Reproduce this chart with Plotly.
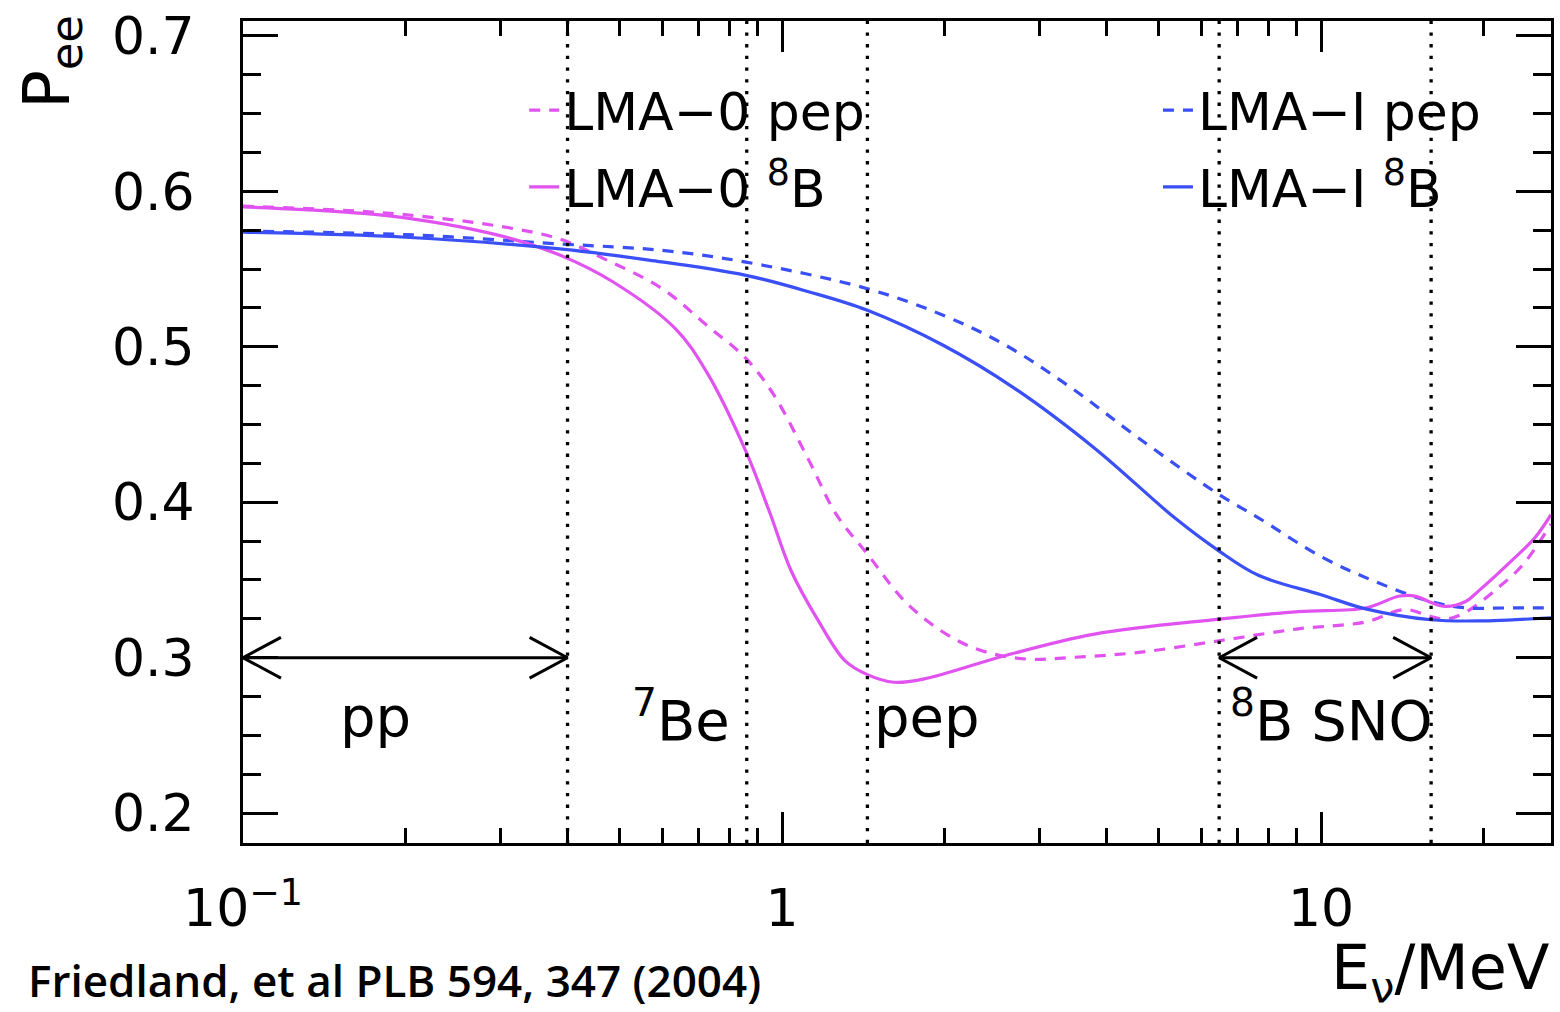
import numpy as np
import plotly.graph_objects as go

# ---------------- data ----------------
# LMA-0, 8B (magenta solid)
e_lma0_b8 = [0.1, 0.15, 0.2, 0.3, 0.387, 0.486, 0.634, 0.724, 0.857, 0.947, 1.04, 1.168,
             1.308, 1.44, 1.613, 1.842, 2.59, 3.80, 6.47, 9.08, 12.1, 14.0, 15.0,
             16.0, 17.0, 18.5, 19.6, 22.5, 24.9, 26.7]
p_lma0_b8 = [0.590, 0.587, 0.583, 0.5715, 0.559, 0.5417, 0.5117, 0.484, 0.4327, 0.3942, 0.3558, 0.3237,
             0.2981, 0.2891, 0.2842, 0.2865, 0.3013, 0.3152, 0.3248, 0.3297, 0.332, 0.3397, 0.3395,
             0.3355, 0.333, 0.336, 0.343, 0.362, 0.377, 0.392]

# LMA-0, pep (magenta dashed)
e_lma0_pep = [0.1, 0.15, 0.2, 0.3, 0.387, 0.468, 0.5995, 0.724, 0.857, 0.965, 1.124, 1.26,
              1.44, 1.708, 2.066, 2.406, 2.857, 3.45, 4.59, 6.47, 9.08, 12.1, 14.3,
              16.0, 17.2, 18.7, 21.3, 23.7, 26.7]
p_lma0_pep = [0.5905, 0.588, 0.585, 0.5775, 0.5693, 0.5566, 0.5374, 0.514, 0.4925, 0.4692, 0.4263, 0.3923,
              0.3667, 0.3346, 0.313, 0.3034, 0.2991, 0.3002, 0.3034, 0.3109, 0.3186, 0.323, 0.331,
              0.3265, 0.325, 0.330, 0.345, 0.360, 0.386]

# LMA-I, 8B (blue solid)
e_lma1_b8 = [0.1, 0.2, 0.387, 0.566, 0.857, 1.124, 1.44, 1.99, 2.70, 3.80, 5.35, 6.47,
             7.65, 10.0, 12.1, 16.0, 20.0, 23.0, 26.7]
p_lma1_b8 = [0.5737, 0.5705, 0.563, 0.5558, 0.546, 0.5353, 0.5235, 0.501, 0.4733, 0.4348, 0.390, 0.3686,
             0.3530, 0.3405, 0.3314, 0.3244, 0.3237, 0.3245, 0.3256]

# LMA-I, pep (blue dashed)
e_lma1_pep = [0.1, 0.2, 0.387, 0.6, 0.857, 1.44, 1.99, 2.60, 3.45, 4.59, 6.47, 7.65,
              10.0, 12.6, 16.0, 18.7, 22.0, 26.7]
p_lma1_pep = [0.5744, 0.5722, 0.5662, 0.562, 0.5545, 0.5374, 0.5203, 0.501, 0.4733, 0.4412, 0.4049, 0.390,
              0.365, 0.349, 0.336, 0.332, 0.332, 0.332]

series_names = ["LMA\u22120 pep", "LMA\u2212I pep", "LMA\u22120 <sup>8</sup>B", "LMA\u2212I <sup>8</sup>B"]

# region boundaries (MeV) and the arrow ranges
boundaries = [0.40, 0.86, 1.44, 6.47, 16.0]
pp_range = [0.1, 0.40]
sno_range = [6.47, 16.0]
arrow_level = 0.30

region_labels = ["pp", "<sup>7</sup>Be", "pep", "<sup>8</sup>B SNO"]
region_label_E = [0.176, 0.6495, 1.858, 10.45]
region_label_P = [0.262, 0.262, 0.262, 0.262]

x_tickvals = [0.1, 1, 10]
x_ticktext = ["10<sup>\u22121</sup>", "1", "10"]
x_minor = [0.2, 0.3, 0.4, 0.5, 0.6, 0.7, 0.8, 0.9, 2, 3, 4, 5, 6, 7, 8, 9, 20]

# ---------------- styling ----------------
MAG = "#E153F0"
BLU = "#3A4FF6"
FONT = "DejaVu Sans"
DASH = "11px,9px"

fig = go.Figure()

# (x, y, name, colour, dash, legend id)
traces = [
    (e_lma0_pep, p_lma0_pep, series_names[0], MAG, DASH, "legend"),
    (e_lma1_pep, p_lma1_pep, series_names[1], BLU, DASH, "legend2"),
    (e_lma0_b8, p_lma0_b8, series_names[2], MAG, "solid", "legend3"),
    (e_lma1_b8, p_lma1_b8, series_names[3], BLU, "solid", "legend4"),
]
for e, p, name, col, dash, leg in traces:
    fig.add_trace(go.Scatter(
        x=e, y=p, mode="lines", name=name, legend=leg,
        line=dict(color=col, width=3.2, dash=dash, shape="spline", smoothing=1.0),
    ))

# double-headed arrows (computed from the ranges)
head_f = 1.176      # horizontal size of arrow head (multiplicative, log axis)
head_dy = 0.0131    # vertical half-size of arrow head
for lo, hi in (pp_range, sno_range):
    xs = [lo * head_f, lo, lo * head_f, None, lo, hi, None, hi / head_f, hi, hi / head_f]
    ys = [arrow_level + head_dy, arrow_level, arrow_level - head_dy, None,
          arrow_level, arrow_level, None,
          arrow_level + head_dy, arrow_level, arrow_level - head_dy]
    fig.add_trace(go.Scatter(x=xs, y=ys, mode="lines", showlegend=False, hoverinfo="skip",
                             line=dict(color="black", width=3)))

# vertical dotted boundary lines
for b in boundaries:
    fig.add_shape(type="line", xref="x", yref="paper", x0=b, x1=b, y0=0, y1=1,
                  line=dict(color="black", width=3.3, dash="3.3px,8.4px"), layer="above")

# region labels
for t, e, p in zip(region_labels, region_label_E, region_label_P):
    fig.add_annotation(x=np.log10(e), y=p, xref="x", yref="y", text=t, showarrow=False,
                       xanchor="center", yanchor="middle",
                       font=dict(family=FONT, size=56, color="black"))

# axis titles and citation
fig.add_annotation(xref="paper", yref="paper", x=-0.147, y=0.95, text="P<sub>ee</sub>",
                   textangle=-90, showarrow=False, xanchor="center", yanchor="middle",
                   font=dict(family=FONT, size=64, color="black"))
fig.add_annotation(xref="paper", yref="paper", x=1.0, y=-0.2075, text="E<sub>\u03bd</sub>/MeV",
                   showarrow=False, xanchor="right", yanchor="bottom",
                   font=dict(family=FONT, size=62, color="black"))
fig.add_annotation(xref="paper", yref="paper", x=-0.166, y=-0.206, text="Friedland, et al PLB 594, 347 (2004)",
                   showarrow=False, xanchor="left", yanchor="bottom",
                   font=dict(family="Open Sans", size=44, color="black", weight=600))

leg_common = dict(xanchor="left", yanchor="top", font=dict(family=FONT, size=52, color="black"),
                  bgcolor="rgba(0,0,0,0)")
fig.update_layout(
    width=1560, height=1012,
    margin=dict(l=243, r=6, t=18, b=169),
    plot_bgcolor="white", paper_bgcolor="white",
    font=dict(family=FONT, color="black"),
    legend=dict(x=0.215, y=0.9406, **leg_common),
    legend2=dict(x=0.6995, y=0.9406, **leg_common),
    legend3=dict(x=0.215, y=0.8473, **leg_common),
    legend4=dict(x=0.6995, y=0.8473, **leg_common),
)

fig.update_xaxes(
    type="log", range=[-1, np.log10(26.7)],
    tickmode="array", tickvals=x_tickvals, ticktext=x_ticktext,
    ticks="inside", ticklen=31, tickwidth=3, tickcolor="black",
    minor=dict(tickmode="array", tickvals=x_minor, ticks="inside", ticklen=15,
               tickwidth=3, tickcolor="black", showgrid=False),
    showline=True, linewidth=3, linecolor="black", mirror="allticks",
    showgrid=False, zeroline=False,
    tickfont=dict(family=FONT, size=52, color="black"), ticklabelstandoff=18,
)
fig.update_yaxes(
    range=[0.1808, 0.7096], tick0=0, dtick=0.1,
    ticks="inside", ticklen=35, tickwidth=3, tickcolor="black",
    minor=dict(dtick=0.025, tick0=0, ticks="inside", ticklen=18, tickwidth=3,
               tickcolor="black", showgrid=False),
    showline=True, linewidth=3, linecolor="black", mirror="allticks",
    showgrid=False, zeroline=False,
    tickfont=dict(family=FONT, size=52, color="black"), ticklabelstandoff=35,
)

fig.write_html("out.html")
